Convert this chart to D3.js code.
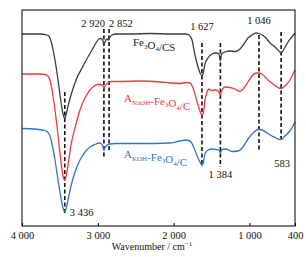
<!DOCTYPE html>
<html>
<head>
<meta charset="utf-8">
<script src="https://cdn.jsdelivr.net/npm/d3@7"></script>
<style>
  body { margin: 0; background: #fff; }
  text { font-family: "Liberation Serif", "DejaVu Serif", serif; }
</style>
</head>
<body>
<div id="main"></div>
<script>
// FTIR spectra, [wavenumber (cm-1), offset transmittance (a.u.)]
let fe3o4CS = [[4000,192],[3763,192],[3697,191.5],[3657,190.5],[3631,188],[3604,181],[3565,166],[3525,146],[3486,124],[3459,112],[3436,107.5],[3420,111],[3393,120],[3341,134],[3288,146],[3209,158],[3130,169],[3077,176],[3024,183],[2985,187],[2958,187.5],[2932,185],[2920,181],[2906,184],[2879,187],[2859,186],[2840,189],[2813,191],[2760,192],[2576,192],[2312,192.5],[2048,192],[1851,192],[1798,191],[1758,186],[1719,171],[1679,159],[1646,152],[1627,150.5],[1607,154],[1587,162],[1547,168],[1495,172],[1442,173],[1402,172],[1384,165],[1369,172],[1323,174],[1257,175],[1191,174.5],[1125,177],[1073,182],[1020,188],[967,191],[914,193],[875,192.5],[835,191],[782,188],[730,183],[677,180],[624,176],[583,173],[545,177],[492,184],[453,188],[400,193]];

let aNaOH = [[4000,152],[3763,152],[3697,151.5],[3657,150],[3631,146],[3604,136],[3565,116],[3525,91],[3486,64],[3459,50],[3436,46],[3420,49],[3393,61],[3354,81],[3301,98],[3235,116],[3169,128],[3103,136],[3051,140],[2998,141.5],[2958,141.5],[2932,140],[2920,138],[2906,140],[2866,143],[2813,144.5],[2708,144.5],[2444,145],[2180,144],[2048,143],[1916,142.5],[1837,143.5],[1785,143],[1745,138],[1706,128],[1666,118],[1640,112],[1627,110.5],[1607,114],[1587,126],[1560,134],[1534,137],[1495,135.5],[1455,136],[1415,135],[1384,131],[1363,136],[1323,139],[1257,138.5],[1191,137],[1125,134.5],[1073,138],[1020,144],[967,150],[914,153],[875,153],[822,151],[756,146],[690,142],[624,138.5],[583,137.5],[519,141],[466,146],[413,154],[400,156]];

let aKOH = [[4000,97.5],[3829,97],[3736,96],[3684,95],[3657,93.5],[3631,90],[3604,82],[3565,66],[3525,46],[3486,28],[3459,18],[3436,14],[3420,17],[3393,26],[3354,40],[3301,54],[3235,66],[3169,74],[3103,79],[3037,81.5],[2985,83],[2958,82.5],[2932,79],[2920,75.5],[2906,78],[2879,81],[2840,82],[2774,82.5],[2444,82.5],[2048,83],[1916,85],[1824,86],[1771,84],[1732,78],[1679,68],[1640,62],[1627,60.5],[1607,64],[1587,72],[1547,76],[1495,77],[1442,76.5],[1402,76],[1384,73],[1363,76.5],[1310,77],[1231,74.5],[1152,75],[1086,79],[1020,87],[954,93],[888,96.5],[835,96],[769,93],[703,90],[637,87.5],[583,86.5],[532,90],[479,94],[426,100],[400,104]];

// peak marks: where the dashed line stands, its label, and its top / bottom
let markWn = [3436, 2920, 2852, 1627, 1384, 875, 583];
let markLabel = ["3 436", "2 920", "2 852", "1 627", "1 384", "1 046", "583"];
let markTop = [134, 197, 197, 183, 183, 191, 194];
let markBottom = [13, 69, 74, 62, 59, 74, 87];

let xTicks = [4000, 3000, 2000, 1000, 400];
let xTickLabels = ["4 000", "3 000", "2 000", "1 000", "400"];

let width = 306, height = 257;
let mLeft = 22, mRight = 295, mTop = 10, mBottom = 226;

let svg = d3.select("#main")
    .append("svg")
    .attr("width", width)
    .attr("height", height);

var xScale = d3.scaleLinear().domain([4000, 400]).range([mLeft, mRight]);
var yScale = d3.scaleLinear().domain([0, 216]).range([mBottom, mTop]);

let line = d3.line()
    .x(d => xScale(d[0]))
    .y(d => yScale(d[1]))
    .curve(d3.curveMonotoneX);

// dashed peak lines
svg.append("g").selectAll("line")
    .data(markWn)
    .enter()
    .append("line")
    .attr("x1", d => xScale(d))
    .attr("x2", d => xScale(d))
    .attr("y1", (d, i) => yScale(markTop[i]))
    .attr("y2", (d, i) => yScale(markBottom[i]))
    .attr("stroke", "#111")
    .attr("stroke-width", 1.6)
    .attr("stroke-dasharray", "4,2.5");

let series = [
    {data: fe3o4CS, color: "#3d3d3d"},
    {data: aNaOH, color: "#ec3b3e"},
    {data: aKOH, color: "#3275c8"}
];

svg.append("g").selectAll("path")
    .data(series)
    .enter()
    .append("path")
    .attr("d", d => line(d.data))
    .attr("fill", "none")
    .attr("stroke", d => d.color)
    .attr("stroke-width", 1.3);

// peak labels
let labelPos = [
    {dx: 5, y: 215.5, anchor: "start"},
    {dx: 1, y: 26.5, anchor: "end"},
    {dx: 0, y: 26.5, anchor: "start"},
    {dx: 0, y: 29.5, anchor: "middle"},
    {dx: 0, y: 178.3, anchor: "middle"},
    {dx: 0, y: 24, anchor: "middle"},
    {dx: 1, y: 166.7, anchor: "middle"}
];

svg.append("g").selectAll("text")
    .data(markLabel)
    .enter()
    .append("text")
    .attr("x", (d, i) => xScale(markWn[i]) + labelPos[i].dx)
    .attr("y", (d, i) => labelPos[i].y)
    .attr("text-anchor", (d, i) => labelPos[i].anchor)
    .attr("font-size", 10.5)
    .attr("fill", "#111")
    .text(d => d);

// series names
function addName(x, y, color, parts) {
    let t = svg.append("text")
        .attr("x", x)
        .attr("y", y)
        .attr("font-size", 11)
        .attr("fill", color);
    parts.forEach(p => {
        t.append("tspan")
            .attr("font-size", p[1] ? 7 : 11)
            .attr("dy", p[1] ? 2.5 : 0)
            .text(p[0]);
        if (p[1]) t.append("tspan").attr("dy", -2.5).text("");
    });
}
addName(133, 46, "#222", [["Fe"], ["3", 1], ["O"], ["4", 1], ["/CS"]]);
addName(124, 102, "#ec3b3e", [["A"], ["NaOH", 1], ["-Fe"], ["3", 1], ["O"], ["4", 1], ["/C"]]);
addName(124, 158, "#3275c8", [["A"], ["KOH", 1], ["-Fe"], ["3", 1], ["O"], ["4", 1], ["/C"]]);

// frame
svg.append("rect")
    .attr("x", mLeft)
    .attr("y", mTop)
    .attr("width", mRight - mLeft)
    .attr("height", mBottom - mTop)
    .attr("fill", "none")
    .attr("stroke", "#000")
    .attr("stroke-width", 1);

// x axis: inward ticks, labels below
let xAxis = d3.axisBottom(xScale)
    .tickValues(xTicks)
    .tickSize(-3)
    .tickFormat((d, i) => xTickLabels[i]);

let ax = svg.append("g")
    .attr("transform", `translate(0,${mBottom})`)
    .call(xAxis);
ax.select(".domain").remove();
ax.selectAll("text")
    .attr("font-size", 10.5)
    .attr("font-family", "Liberation Serif, serif")
    .attr("fill", "#111")
    .attr("dy", null)
    .attr("y", 13);

let title = svg.append("text")
    .attr("x", 152)
    .attr("y", 250)
    .attr("text-anchor", "middle")
    .attr("font-size", 10)
    .attr("fill", "#111")
    .text("Wavenumber / cm");
title.append("tspan")
    .attr("font-size", 7)
    .attr("dy", -4)
    .text("\u22121");
</script>
</body>
</html>
